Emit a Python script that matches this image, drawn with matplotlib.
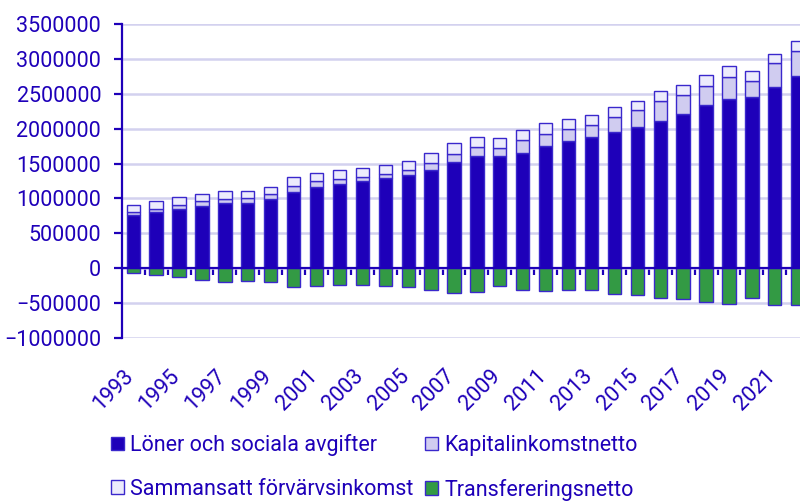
import matplotlib
matplotlib.use("Agg")
import matplotlib.pyplot as plt
import matplotlib.transforms as mtransforms
from matplotlib.ticker import StrMethodFormatter, FixedLocator
import numpy as np

plt.rcParams['font.family'] = ['Roboto', 'DejaVu Sans']

years = list(range(1993, 2023))

loner = [766000, 805000, 843000, 896000, 934000, 934000, 987000, 1092000, 1169000, 1207000,
         1255000, 1293000, 1341000, 1403000, 1523000, 1609000, 1609000, 1657000, 1753000, 1825000,
         1882000, 1954000, 2026000, 2117000, 2213000, 2342000, 2428000, 2457000, 2605000, 2763000]
kapital = [38000, 48000, 57000, 67000, 57000, 67000, 77000, 86000, 77000, 67000,
           57000, 57000, 62000, 105000, 115000, 129000, 115000, 177000, 168000, 168000,
           168000, 216000, 239000, 283000, 273000, 278000, 316000, 230000, 345000, 354000]
sammansatt = [101000, 105000, 115000, 101000, 110000, 110000, 105000, 125000, 120000, 129000,
              129000, 129000, 139000, 144000, 163000, 148000, 139000, 148000, 158000, 148000,
              148000, 144000, 139000, 139000, 148000, 148000, 158000, 139000, 129000, 144000]
transfer = [-72000, -96000, -134000, -172000, -206000, -187000, -206000, -278000, -254000, -239000,
            -239000, -254000, -278000, -316000, -354000, -350000, -263000, -321000, -330000, -311000,
            -316000, -369000, -393000, -431000, -445000, -489000, -512000, -436000, -536000, -527000]

names = ['Löner och sociala avgifter', 'Kapitalinkomstnetto',
         'Sammansatt förvärvsinkomst', 'Transfereringsnetto']

navy = '#1e00b9'
c_loner = '#1e00b9'
c_kap = '#d0ccf0'
c_sam = '#ecebfc'
c_tr = '#339a44'
edge = '#3a28cc'
grid_c = '#d3d1ef'
fs = 15.5

fig = plt.figure(figsize=(8, 5.01), dpi=100)
ax = fig.add_axes([0.1525, 0.326, 0.8475, 0.6255])

x = np.arange(len(years))
w = 0.58
loner = np.array(loner)
kapital = np.array(kapital)
sammansatt = np.array(sammansatt)
transfer = np.array(transfer)

b1 = ax.bar(x, loner, w, color=c_loner, edgecolor=edge, linewidth=1, zorder=3, label=names[0])
b2 = ax.bar(x, kapital, w, bottom=loner, color=c_kap, edgecolor=edge, linewidth=1, zorder=3, label=names[1])
b3 = ax.bar(x, sammansatt, w, bottom=loner + kapital, color=c_sam, edgecolor=edge, linewidth=1, zorder=3, label=names[2])
b4 = ax.bar(x, transfer, w, color=c_tr, edgecolor=edge, linewidth=1, zorder=3, label=names[3])

ymin, ymax = -1000000, 3500000
ax.set_ylim(ymin, ymax)
ax.set_xlim(-0.49, 29.1)
ax.set_yticks(np.arange(ymin, ymax + 1, 500000))
ax.yaxis.set_major_formatter(StrMethodFormatter('{x:.0f}'))
ax.grid(axis='y', color=grid_c, linewidth=1.8, zorder=0)
ax.set_axisbelow(True)

for s in ['top', 'right', 'bottom']:
    ax.spines[s].set_visible(False)
ax.spines['left'].set_color(navy)
ax.spines['left'].set_linewidth(1.6)
ax.tick_params(axis='y', colors=navy, labelsize=fs, length=6, width=1.6, pad=9)

# zero line with tick marks between categories
ax.axhline(0, color=navy, linewidth=1.6, zorder=4)
sec = ax.secondary_xaxis((0 - ymin) / (ymax - ymin))
sec.spines['bottom'].set_visible(False)
sec.xaxis.set_major_locator(FixedLocator(x[:-1] + 0.5))
sec.tick_params(axis='x', colors=navy, length=5, width=1.6, labelbottom=False)

# year labels
ax.set_xticks(x[::2])
ax.set_xticklabels([str(y) for y in years[::2]], rotation=45, ha='right', va='top')
ax.tick_params(axis='x', colors=navy, labelsize=fs, length=0, pad=20)
offset = mtransforms.ScaledTranslation(5 / 100, 0, fig.dpi_scale_trans)
for lab in ax.get_xticklabels():
    lab.set_transform(lab.get_transform() + offset)

handles = [b1, b3, b2, b4]
labels = [names[0], names[2], names[1], names[3]]
fig.legend(handles, labels, ncol=2, loc='upper left', bbox_to_anchor=(0.139, 1 - 434 / 501),
           frameon=False, fontsize=fs, labelcolor=navy, borderpad=0, handlelength=0.58,
           handleheight=0.58, handletextpad=0.3, columnspacing=0.55, labelspacing=1.05,
           borderaxespad=0)

fig.savefig('out.png', dpi=100)
